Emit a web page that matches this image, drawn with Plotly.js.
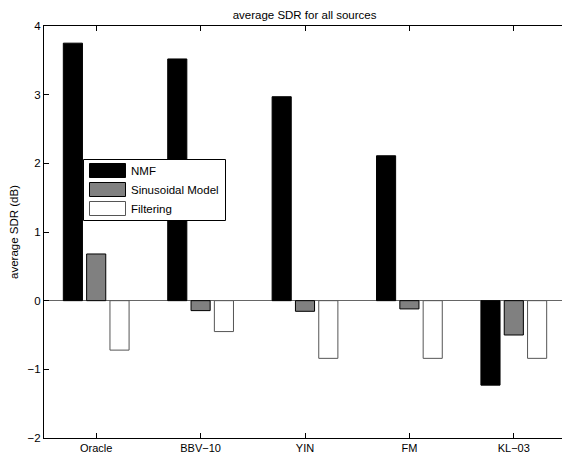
<!DOCTYPE html>
<html>
<head>
<meta charset="utf-8">
<script src="https://cdn.plot.ly/plotly-3.0.1.min.js"></script>
<style>
  html, body { margin: 0; padding: 0; background: #fff; }
  #chart { width: 562px; height: 454px; }
</style>
</head>
<body>
<div id="chart"></div>
<script>
// Data
const methods = ["Oracle", "BBV\u221210", "YIN", "FM", "KL\u221203"];
const seriesNames = ["NMF", "Sinusoidal Model", "Filtering"];
const nmf = [3.75, 3.52, 2.97, 2.11, -1.23];
const sinusoidal = [0.68, -0.145, -0.155, -0.12, -0.50];
const filtering = [-0.72, -0.45, -0.84, -0.84, -0.84];
const yTicks = [-2, -1, 0, 1, 2, 3, 4];

const FONT = "Liberation Sans, Arial, Helvetica, sans-serif";
const fills = ["#000000", "#808080", "#ffffff"];
const edges = ["#000000", "#000000", "#555555"];
const values = [nmf, sinusoidal, filtering];

const traces = values.map((v, i) => ({
  type: "bar",
  x: methods,
  y: v,
  name: seriesNames[i],
  marker: { color: fills[i], line: { color: edges[i], width: 1 } },
  showlegend: false,
  hoverinfo: "x+y+name"
}));

// plot area geometry (pixels)
const W = 562, H = 454, L = 44, T = 26, B = 16;
const PW = W - L, PH = H - T - B;
const px = x => (x - L) / PW;
const py = y => (H - B - y) / PH;

const shapes = [];
const annotations = [];
// legend box
shapes.push({ type: "rect", xref: "paper", yref: "paper",
  x0: px(83.5), x1: px(225.5), y0: py(220.5), y1: py(159.5),
  line: { color: "#000", width: 1 }, fillcolor: "#fff", layer: "above" });
const swY = [[163.5, 177.5], [182.5, 196.5], [201.5, 215.5]];
seriesNames.forEach((n, i) => {
  shapes.push({ type: "rect", xref: "paper", yref: "paper",
    x0: px(89.5), x1: px(125.5), y0: py(swY[i][1]), y1: py(swY[i][0]),
    line: { color: edges[i], width: 1 }, fillcolor: fills[i], layer: "above" });
  annotations.push({ xref: "paper", yref: "paper",
    x: px(128.5), y: py((swY[i][0] + swY[i][1]) / 2),
    xanchor: "left", yanchor: "middle", showarrow: false, text: n,
    font: { family: FONT, size: 11.5, color: "#000" } });
});

const layout = {
  width: W, height: H,
  margin: { l: L, r: 0, t: T, b: B, pad: 0 },
  paper_bgcolor: "#fff", plot_bgcolor: "#fff",
  font: { family: FONT, size: 11.5, color: "#000" },
  title: { text: "average SDR for all sources", font: { family: FONT, size: 11.5, color: "#000" },
    xref: "paper", x: 0.503, xanchor: "center", yref: "container", y: 1 - 15 / H, yanchor: "middle" },
  barmode: "group",
  bargap: 0.33,
  bargroupgap: 0.18,
  xaxis: {
    type: "category",
    range: [-0.5, -0.5 + PW / 104.4],
    showline: true, linecolor: "#000", linewidth: 1,
    mirror: "ticks",
    ticks: "inside", ticklen: 5, tickcolor: "#000", tickwidth: 1,
    showgrid: false, zeroline: false,
    tickfont: { family: FONT, size: 11, color: "#000" },
    automargin: false, fixedrange: true
  },
  yaxis: {
    range: [-2, 4],
    tickvals: yTicks,
    ticktext: yTicks.map(v => v < 0 ? "\u2212" + Math.abs(v) : String(v)),
    showline: true, linecolor: "#000", linewidth: 1,
    ticks: "inside", ticklen: 5, tickcolor: "#000", tickwidth: 1,
    showgrid: false,
    zeroline: true, zerolinecolor: "#666", zerolinewidth: 1,
    tickfont: { family: FONT, size: 11.5, color: "#000" },
    title: { text: "average SDR (dB)", font: { family: FONT, size: 11.5, color: "#000" }, standoff: 6 },
    automargin: false, fixedrange: true
  },
  shapes: shapes,
  annotations: annotations
};

Plotly.newPlot("chart", traces, layout, { displayModeBar: false, staticPlot: true });
</script>
</body>
</html>
